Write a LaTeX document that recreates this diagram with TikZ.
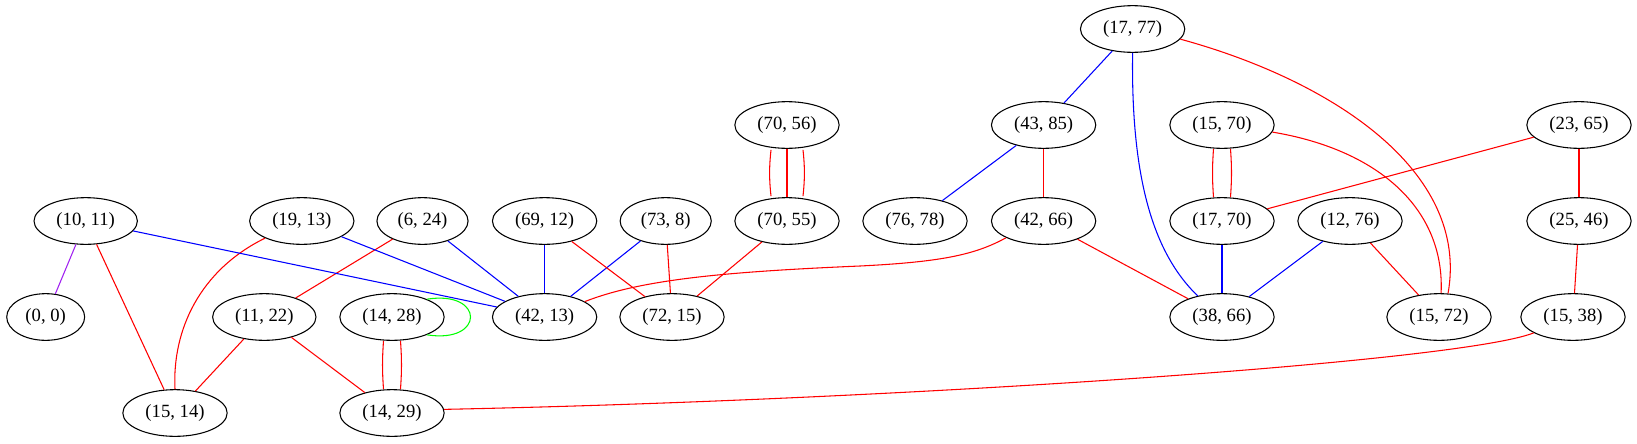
\documentclass[tikz,border=0pt]{standalone}
\usepackage{fontspec}
\setmainfont{Liberation Serif}
\usetikzlibrary{shapes.geometric,calc}
\definecolor{gvpurple}{HTML}{A020F0}
\definecolor{gvgreen}{HTML}{00FF00}
\begin{document}
\begin{tikzpicture}[x=0.75pt,y=-0.75pt,
  nd/.style={ellipse,draw,line width=0.8pt,inner xsep=5.5pt,inner ysep=2pt,
    minimum height=35pt,font=\fontsize{14pt}{16pt}\selectfont},
  ed/.style={line width=0.8pt},
  re/.style={ed,red},
  be/.style={ed,blue}]
\useasboundingbox (0,0) rectangle (1637,443);
% row 0
\node[nd] (n1777) at (1132.6,29) {(17, 77)};
% row 1
\node[nd] (n7056) at (787,125) {(70, 56)};
\node[nd] (n4385) at (1043.6,125) {(43, 85)};
\node[nd] (n1570) at (1222,125) {(15, 70)};
\node[nd] (n2365) at (1579,125) {(23, 65)};
% row 2
\node[nd] (n1011) at (85.7,221) {(10, 11)};
\node[nd] (n1913) at (301.8,221) {(19, 13)};
\node[nd] (n0624) at (422.5,221) {(6, 24)};
\node[nd] (n6912) at (544.6,221) {(69, 12)};
\node[nd] (n7308) at (665.7,221) {(73, 8)};
\node[nd] (n7055) at (787,221) {(70, 55)};
\node[nd] (n7678) at (915,221) {(76, 78)};
\node[nd] (n4266) at (1043.6,221) {(42, 66)};
\node[nd] (n1770) at (1222,221) {(17, 70)};
\node[nd] (n1276) at (1350,221) {(12, 76)};
\node[nd] (n2546) at (1579,221) {(25, 46)};
% row 3
\node[nd] (n0000) at (45.7,317) {(0, 0)};
\node[nd] (n1122) at (264.3,317) {(11, 22)};
\node[nd] (n1428) at (392,317) {(14, 28)};
\node[nd] (n4213) at (544.6,317) {(42, 13)};
\node[nd] (n7215) at (672,317) {(72, 15)};
\node[nd] (n3866) at (1222,317) {(38, 66)};
\node[nd] (n1572) at (1439,317) {(15, 72)};
\node[nd] (n1538) at (1573,317) {(15, 38)};
% row 4
\node[nd] (n1514) at (175,413) {(15, 14)};
\node[nd] (n1429) at (392,413) {(14, 29)};

% edges from (17,77)
\draw[be] (n1777) -- (n4385);
\draw[be] (n1777.south) .. controls (1131,170) and (1150,250) .. (n3866.139);
\draw[re] (n1777.-12) .. controls (1330,80) and (1470,170) .. (n1572.69);
% (15,70)
\draw[re] ($(n1570.south)+(-8.5,0)$) to[bend right=4] ($(n1770.north)+(-8.5,0)$);
\draw[re] ($(n1570.south)+(8.5,0)$) to[bend left=4] ($(n1770.north)+(8.5,0)$);
\draw[re] (n1570.-8) .. controls (1380,150) and (1445,210) .. (n1572.85);
% (23,65)
\draw[re] (n2365) -- (n1770);
\draw[re] (n2365) -- (n2546);
\draw[re] (n2546) -- (n1538);
\draw[re] (n1538.202) .. controls (1460,362) and (900,400) .. (n1429.4);
% (12,76), (17,70)
\draw[be] (n1276) -- (n3866);
\draw[re] (n1276) -- (n1572);
\draw[be] (n1770) -- (n3866);
% (43,85), (42,66)
\draw[be] (n4385) -- (n7678);
\draw[re] (n4385) -- (n4266);
\draw[re] (n4266) -- (n3866);
\draw[re] (n4266.204) .. controls (975,255) and (940,262) .. (860,266)
   .. controls (720,272) and (640,280) .. (n4213.21);
% (70,56) triple
\draw[re] (n7056) -- (n7055);
\draw[re] ($(n7056.south)+(-16,1)$) to[bend right=6] ($(n7055.north)+(-16,-1)$);
\draw[re] ($(n7056.south)+(16,1)$) to[bend left=6] ($(n7055.north)+(16,-1)$);
\draw[re] (n7055) -- (n7215);
% (73,8), (69,12), (6,24), (19,13), (10,11)
\draw[be] (n7308) -- (n4213);
\draw[re] (n7308) -- (n7215);
\draw[be] (n6912) -- (n4213);
\draw[re] (n6912) -- (n7215);
\draw[be] (n0624) -- (n4213);
\draw[re] (n0624) -- (n1122);
\draw[be] (n1913) -- (n4213);
\draw[re] (n1913.205) .. controls (200,270) and (172,330) .. (n1514.north);
\draw[be] (n1011) -- (n4213);
\draw[ed,gvpurple] (n1011) -- (n0000);
\draw[re] (n1011) -- (n1514);
% (11,22), (14,28)
\draw[re] (n1122) -- (n1514);
\draw[re] (n1122) -- (n1429);
\draw[re] ($(n1428.south)+(-8.5,0)$) to[bend right=4] ($(n1429.north)+(-8.5,0)$);
\draw[re] ($(n1428.south)+(8.5,0)$) to[bend left=4] ($(n1429.north)+(8.5,0)$);
\draw[ed,gvgreen] (n1428.27) .. controls (485,290) and (485,344) .. (n1428.-27);
\end{tikzpicture}
\end{document}
